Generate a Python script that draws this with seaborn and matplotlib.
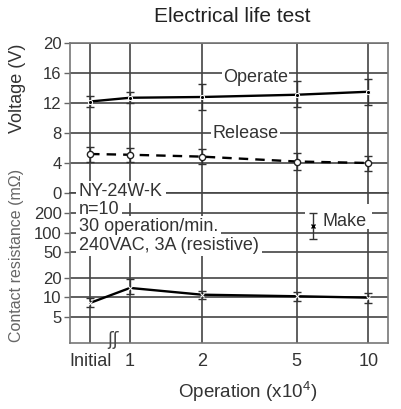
import matplotlib
matplotlib.use("Agg")
import matplotlib.pyplot as plt
from matplotlib.ticker import NullLocator, FixedLocator
from matplotlib.patches import Rectangle
import seaborn as sns
import pandas as pd

sns.set_theme(style="ticks")
plt.rcParams['font.family'] = ['Liberation Sans', 'DejaVu Sans']

# operations (x10^4); "Initial" sits left of 1 on the log axis
ops_labels = ["Initial", "1", "2", "5", "10"]
ops_pos = [0.68, 1, 2, 5, 10]

# operate voltage (V)
operate_v = [12.2, 12.7, 12.8, 13.1, 13.5]
operate_lo = [11.5, 12.0, 11.1, 11.5, 11.7]
operate_hi = [12.9, 13.5, 14.6, 14.9, 15.2]

# release voltage (V)
release_v = [5.2, 5.1, 4.85, 4.2, 4.0]
release_lo = [4.2, 4.2, 3.9, 3.1, 3.0]
release_hi = [6.2, 6.0, 5.9, 5.3, 5.0]

# make contact resistance (mOhm)
make_r = [8.2, 14.0, 11.0, 10.4, 9.9]
make_lo = [7.2, 11.2, 9.3, 8.8, 8.3]
make_hi = [9.9, 19.0, 12.5, 12.2, 11.7]

volt_ticks = [0, 4, 8, 12, 16, 20]
res_ticks = [5, 10, 20, 50, 100, 200]

info_lines = ["NY-24W-K", "n=10", "30 operation/min.", "240VAC, 3A (resistive)"]

df = pd.DataFrame({
    "pos": ops_pos,
    "operate": operate_v, "op_lo": operate_lo, "op_hi": operate_hi,
    "release": release_v, "rel_lo": release_lo, "rel_hi": release_hi,
    "make": make_r, "mk_lo": make_lo, "mk_hi": make_hi,
})

W, H = 402, 409
fig = plt.figure(figsize=(W / 100, H / 100), dpi=100)


def fx(px):
    return px / W


def fy(py):
    return 1 - py / H


ax_v = fig.add_axes([fx(70), fy(193), 318 / W, 150 / H])
ax_r = fig.add_axes([fx(70), fy(343), 318 / W, 150 / H])

line_kw = dict(color="black", lw=1.7, zorder=4)
err_kw = dict(fmt="none", ecolor="#333333", elinewidth=1, capsize=3, capthick=1, zorder=3)

sns.lineplot(data=df, x="pos", y="operate", ax=ax_v, marker="o", markersize=3, **line_kw)
ax_v.errorbar(df.pos, df.operate, yerr=[df.operate - df.op_lo, df.op_hi - df.operate], **err_kw)

sns.lineplot(data=df, x="pos", y="release", ax=ax_v, linestyle=(0, (4, 3)), marker="o",
             markersize=4.5, markerfacecolor="white", markeredgecolor="#222222",
             markeredgewidth=1.0, **line_kw)
ax_v.errorbar(df.pos, df.release, yerr=[df.release - df.rel_lo, df.rel_hi - df.release], **err_kw)

sns.lineplot(data=df, x="pos", y="make", ax=ax_r, marker="x", markersize=3, **line_kw)
ax_r.errorbar(df.pos, df.make, yerr=[df.make - df.mk_lo, df.mk_hi - df.make], **err_kw)

for ax in (ax_v, ax_r):
    ax.set_xscale("log")
    ax.set_xlim(0.56, 12.1)
    ax.xaxis.set_major_locator(FixedLocator(ops_pos))
    ax.xaxis.set_minor_locator(NullLocator())
    ax.set_xlabel("")
    ax.set_ylabel("")
    ax.grid(True, color="#444444", lw=1.2)
    for s in ax.spines.values():
        s.set_color("#777777")
        s.set_linewidth(1.2)
    ax.tick_params(axis="y", direction="out", length=4, width=1, color="#666666",
                   labelsize=12, labelcolor="#333333", pad=2)
    ax.tick_params(axis="x", length=0, labelsize=13, labelcolor="#333333", pad=7)

ax_v.set_ylim(0, 20)
ax_v.set_yticks(volt_ticks)
ax_v.set_xticklabels([])
ax_v.spines["bottom"].set_visible(False)

ax_r.set_yscale("log")
ax_r.set_ylim(1.96, 415)
ax_r.yaxis.set_major_locator(FixedLocator(res_ticks))
ax_r.yaxis.set_minor_locator(NullLocator())
ax_r.set_yticklabels([str(t) for t in res_ticks])
ax_r.set_xticklabels(ops_labels)
# the voltage 0 line doubles as the join between the two panels
ax_r.spines["top"].set_color("#444444")

for txt, x, y in [("Operate", 223, 78), ("Release", 212, 133)]:
    fig.text(fx(x), fy(y), txt, fontsize=13, color="#333333", va="center", ha="left",
             bbox=dict(facecolor="white", edgecolor="none", pad=1), zorder=5)

info_y = [192, 210, 227, 245]
for txt, y in zip(info_lines, info_y):
    fig.text(fx(79), fy(y), txt, fontsize=13, color="white", va="center", ha="left",
             bbox=dict(facecolor="white", edgecolor="none", pad=2), zorder=5)
for txt, y in zip(info_lines, info_y):
    fig.text(fx(79), fy(y), txt, fontsize=13, color="#333333", va="center", ha="left", zorder=6)

# Make legend
ax_r.add_patch(Rectangle((0.739, 0.76), 0.21, 0.167, transform=ax_r.transAxes,
                         facecolor="white", edgecolor="none", zorder=2.5))
ax_r.errorbar([0.764], [0.78], yerr=[[0.087], [0.087]], transform=ax_r.transAxes,
              fmt="x", color="black", markersize=3, ecolor="#333333", elinewidth=1,
              capsize=3, zorder=4)
ax_r.text(0.795, 0.807, "Make", transform=ax_r.transAxes, fontsize=13, color="#333333",
          va="center", ha="left", zorder=5)

# axis break mark
fig.text(fx(113), fy(340), "ʃʃ", fontsize=12, color="#444444", ha="center", va="center",
         family=["DejaVu Sans"], zorder=6)

fig.text(fx(232), fy(17), "Electrical life test", fontsize=15, color="#222222",
         ha="center", va="center")
fig.text(fx(248), fy(392), r"Operation (x10$\mathregular{^4}$)", fontsize=13.5,
         color="#333333", ha="center", va="center")
fig.text(fx(18), fy(88), "Voltage (V)", fontsize=13, color="#333333", rotation=90,
         ha="center", va="center")
fig.text(fx(17), fy(255), "Contact resistance (mΩ)", fontsize=11.5, color="#666666",
         rotation=90, ha="center", va="center")

fig.savefig("out.png", dpi=100)
